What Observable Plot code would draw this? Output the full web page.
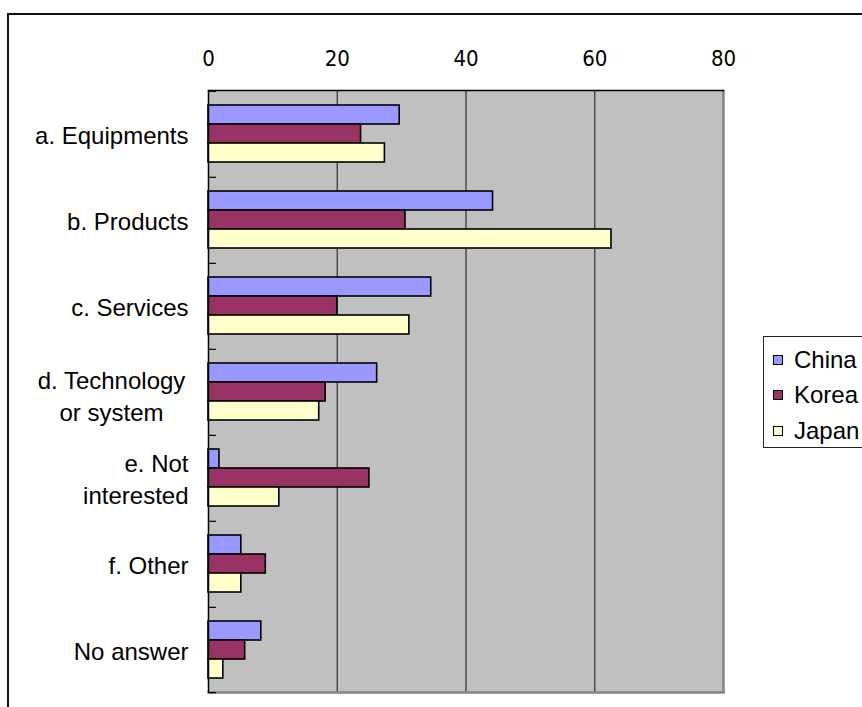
<!DOCTYPE html>
<html>
<head>
<meta charset="utf-8">
<script src="https://cdn.jsdelivr.net/npm/d3@7"></script>
<script src="https://cdn.jsdelivr.net/npm/@observablehq/plot@0.6"></script>
<style>
  html, body { margin: 0; padding: 0; background: #fff; }
  #wrap { position: relative; width: 862px; height: 707px; overflow: hidden; }
  #border { position: absolute; left: 7px; top: 13px; width: 900px; height: 800px; border-left: 2.5px solid #111; border-top: 2.5px solid #111; pointer-events: none; }
  #legend { position: absolute; left: 763px; top: 336px; width: 160px; height: 110px; border: 1px solid #222; background: #fff;
            font-family: "Liberation Sans", Arial, sans-serif; font-size: 24px; color: #000; }
  .item { position: absolute; left: 9px; height: 26px; line-height: 26px; white-space: nowrap; }
  .sw { display: inline-block; width: 8px; height: 8px; border: 1.5px solid #000; vertical-align: middle; margin-right: 11px; position: relative; top: -2px; }
  #chart { position: absolute; left: 0; top: 0; }
</style>
</head>
<body>
<div id="wrap">
  <div id="chart"></div>
  <div id="border"></div>
  <div id="legend"></div>
</div>
<script>
// ---- data ----
const categories = ["a. Equipments", "b. Products", "c. Services", "d. Technology\nor system", "e. Not\ninterested", "f. Other", "No answer"];
const series = ["China", "Korea", "Japan"];
const china = [29.7, 44.2, 34.6, 26.2, 1.7, 5.1, 8.2];
const korea = [23.7, 30.6, 20.0, 18.2, 25.0, 8.9, 5.7];
const japan = [27.4, 62.6, 31.2, 17.2, 11.0, 5.1, 2.3];
const xTicks = [0, 20, 40, 60, 80];
const xGrid = [20, 40, 60];
const colors = ["#9999FF", "#993366", "#FFFFCC"];

const values = [china, korea, japan];
const table = categories.flatMap((c, i) => series.map((s, j) => ({category: c, series: s, value: values[j][i]})));

// the centred two-line label
const centred = [categories[3]];

const labelFont = '"Liberation Sans", Arial, sans-serif';
const tickFont = '"DejaVu Sans Condensed", "DejaVu Sans", sans-serif';

const chart = Plot.plot({
  width: 862,
  height: 707,
  marginLeft: 208,
  marginRight: 139,
  marginTop: 90,
  marginBottom: 15,
  style: {fontFamily: labelFont, fontSize: "24px", background: "transparent", color: "#000"},
  x: {domain: [0, 80]},
  fy: {domain: categories, padding: 0, label: null},
  y: {domain: series, paddingInner: 0, paddingOuter: 0.725, axis: null},
  color: {domain: series, range: colors},
  marks: [
    Plot.frame({fill: "#c0c0c0", stroke: "#c0c0c0", strokeWidth: 1.2}),
    Plot.gridX(xGrid, {stroke: "#3a3a3a", strokeOpacity: 1, strokeWidth: 1.3}),
    Plot.ruleX([80], {stroke: "#858585", strokeWidth: 2.5}),
    Plot.frame({anchor: "bottom", facetAnchor: "bottom", stroke: "#858585", strokeWidth: 2.5}),
    Plot.barX(table, {x: "value", y: "series", fy: "category", fill: "series", stroke: "#000", strokeWidth: 1.6}),
    Plot.ruleX([0], {stroke: "#000", strokeWidth: 1.5}),
    Plot.frame({anchor: "top", facetAnchor: "top", stroke: "#000", strokeWidth: 1.5}),
    Plot.ruleY([series[0]], {x1: 0, x2: 1.25, dy: -23.67, stroke: "#000", strokeWidth: 1.2}),
    Plot.ruleY([series[2]], {x1: 0, x2: 1.25, dy: 23.67, stroke: "#000", strokeWidth: 1.2, facetAnchor: "bottom"}),
    Plot.axisX(xTicks, {anchor: "top", tickSize: 0, tickPadding: 25, fontFamily: tickFont, fontSize: 22, label: null}),
    Plot.axisFy({anchor: "left", tickSize: 0, tickPadding: 20, fontFamily: labelFont, fontSize: 24, lineHeight: 1.36, label: null,
                 tickFormat: (d) => (centred.includes(d) ? "" : d)}),
    Plot.axisFy({anchor: "left", tickSize: 0, tickPadding: 97, textAnchor: "middle", dy: 3, fontFamily: labelFont, fontSize: 24, lineHeight: 1.36, label: null,
                 tickFormat: (d) => (centred.includes(d) ? d : "")})
  ]
});
document.getElementById("chart").appendChild(chart);

// legend
const legend = document.getElementById("legend");
const itemTops = [10, 45, 81];
series.forEach((s, i) => {
  const d = document.createElement("div");
  d.className = "item";
  d.style.top = itemTops[i] + "px";
  const sw = document.createElement("span");
  sw.className = "sw";
  sw.style.background = colors[i];
  d.appendChild(sw);
  d.appendChild(document.createTextNode(s));
  legend.appendChild(d);
});
</script>
</body>
</html>
